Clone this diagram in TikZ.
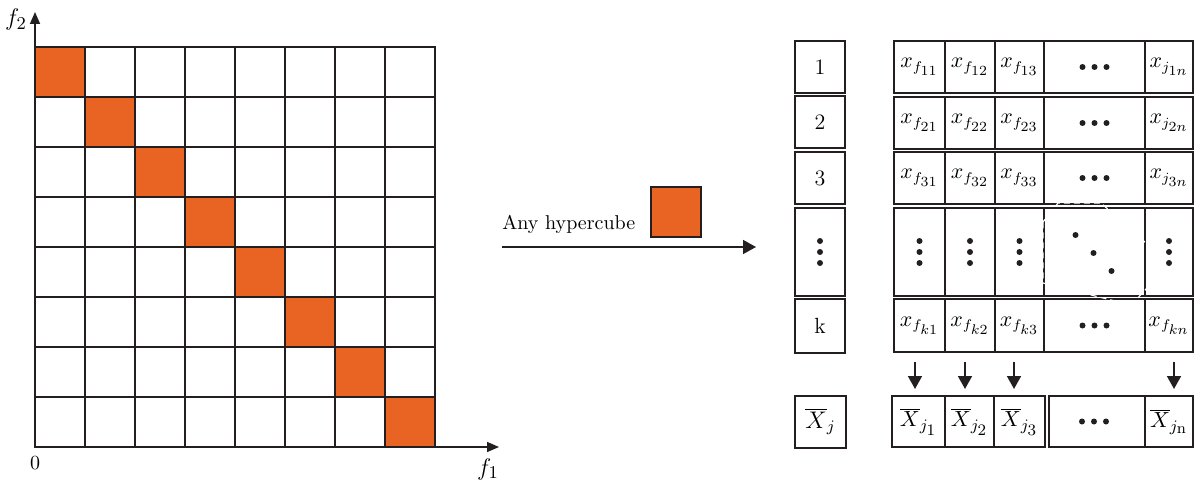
\documentclass[tikz,border=0pt]{standalone}
\usepackage{fontspec}
\usetikzlibrary{arrows.meta}
\definecolor{hc}{RGB}{233,100,34}
\definecolor{ln}{RGB}{35,31,32}
\newcommand{\sbs}[1]{{\scriptstyle #1}}
\begin{document}
\begin{tikzpicture}[x=0.5pt,y=-0.5pt,
  gridline/.style={draw=ln,line width=1pt},
  hcube/.style={draw=ln,fill=hc,line width=1pt,minimum size=25pt,inner sep=0pt,outer sep=0pt},
  cell/.style={draw=ln,line width=1pt,inner sep=0pt,outer sep=0pt,font=\fontsize{11}{13}\selectfont},
  axisarrow/.style={draw=ln,line width=0.8pt,-{Triangle[length=6pt,width=5pt]}},
  downarrow/.style={draw=ln,line width=0.8pt,-{Triangle[length=6.5pt,width=7pt]}},
  lbl/.style={inner sep=0pt,font=\fontsize{10.5}{12}\selectfont},
  dotc/.style={fill=ln}]
\useasboundingbox (0,0) rectangle (1194,481);

% ---------- left grid ----------
\foreach \i in {1,...,7}{
  \draw[gridline] ({35+50*\i},47) -- ({35+50*\i},447);
  \draw[gridline] (35,{47+50*\i}) -- (435,{47+50*\i});
}
\draw[gridline] (35,47) rectangle (435,447);
\foreach \i in {0,...,7}{
  \node[hcube] (d\i) at ({60+50*\i},{72+50*\i}) {};
}
\coordinate (O) at (35,448);
\coordinate (ytip) at (35,12);
\coordinate (xtip) at (499,447);
\draw[axisarrow] (O) -- (ytip);
\draw[axisarrow] (34.5,447) -- (xtip);
\node[lbl,font=\fontsize{12.5}{14}\selectfont] (f2) at (16,20) {$f_2$};
\node[lbl,font=\fontsize{12.5}{14}\selectfont] (f1) at (488,469) {$f_1$};
\node[lbl,font=\fontsize{10}{11}\selectfont] (zero) at (35,463) {0};

% ---------- middle ----------
\node[lbl,anchor=base west,font=\fontsize{10}{12}\selectfont] (any) at (502,229) {Any hypercube};
\node[hcube] (cube) at (675.5,212) {};
\coordinate (astart) at (502,247);
\coordinate (aend) at (756,247);
\draw[downarrow] (astart) -- (aend);

% ---------- left column ----------
\node[cell,minimum width=25pt,minimum height=26pt] (k1) at (820,67) {1};
\node[cell,minimum width=25pt,minimum height=26pt] (k2) at (820,122) {2};
\node[cell,minimum width=25pt,minimum height=26pt] (k3) at (820,178) {3};
\node[cell,minimum width=25pt,minimum height=44pt] (k4) at (820,252) {};
\node[cell,minimum width=25pt,minimum height=27pt] (k5) at (820,325.5) {k};
\node[cell,minimum width=25.5pt,minimum height=26pt,font=\fontsize{11.5}{13}\selectfont] (kx) at (820.5,421.5) {$\overline{X}_{\sbs{j}}$};
\foreach \d in {-11,0,11}{\fill[dotc] ([yshift=-\d*0.5pt]k4.center) circle[radius=1.5pt];}

% ---------- right table ----------
\foreach \r/\yc/\h in {1/67/26,2/123/26,3/178/26,4/252/44,5/325.5/26.5}{
  \node[cell,minimum width=25.5pt,minimum height=\h pt] (t\r c1) at (919.5,\yc) {};
  \node[cell,minimum width=25pt,minimum height=\h pt] (t\r c2) at (970,\yc) {};
  \node[cell,minimum width=24.5pt,minimum height=\h pt] (t\r c3) at (1019.5,\yc) {};
  \node[cell,minimum width=50.5pt,minimum height=\h pt] (t\r c4) at (1094.5,\yc) {};
  \node[cell,minimum width=24pt,minimum height=\h pt] (t\r c5) at (1169,\yc) {};
}
\node[lbl] at (t1c1) {$x_{f_{\sbs{11}}}$};
\node[lbl] at (t1c2) {$x_{f_{\sbs{12}}}$};
\node[lbl] at (t1c3) {$x_{f_{\sbs{13}}}$};
\node[lbl] at (t1c5) {$x_{j_{\sbs{1n}}}$};
\node[lbl] at (t2c1) {$x_{f_{\sbs{21}}}$};
\node[lbl] at (t2c2) {$x_{f_{\sbs{22}}}$};
\node[lbl] at (t2c3) {$x_{f_{\sbs{23}}}$};
\node[lbl] at (t2c5) {$x_{j_{\sbs{2n}}}$};
\node[lbl] at (t3c1) {$x_{f_{\sbs{31}}}$};
\node[lbl] at (t3c2) {$x_{f_{\sbs{32}}}$};
\node[lbl] at (t3c3) {$x_{f_{\sbs{33}}}$};
\node[lbl] at (t3c5) {$x_{j_{\sbs{3n}}}$};
\node[lbl] at (t5c1) {$x_{f_{\sbs{k1}}}$};
\node[lbl] at (t5c2) {$x_{f_{\sbs{k2}}}$};
\node[lbl] at (t5c3) {$x_{f_{\sbs{k3}}}$};
\node[lbl] at (t5c5) {$x_{f_{\sbs{kn}}}$};
% horizontal dots
\foreach \r in {1,2,3,5}{
  \foreach \d in {-12,0,12}{\fill[dotc] ([xshift=\d*0.5pt]t\r c4.center) circle[radius=1.5pt];}
}
% vertical dots
\foreach \c in {1,2,3,5}{
  \foreach \d in {-11,0,11}{\fill[dotc] ([yshift=-\d*0.5pt]t4c\c.center) circle[radius=1.5pt];}
}
% diagonal dots
\fill[dotc] ([xshift=-9.5pt,yshift=8.5pt]t4c4.center) circle[radius=1.5pt];
\fill[dotc] ([xshift=-0.5pt,yshift=-0.5pt]t4c4.center) circle[radius=1.5pt];
\fill[dotc] ([xshift=8.5pt,yshift=-9.5pt]t4c4.center) circle[radius=1.5pt];
% white dashed artefact
\draw[white,line width=0.6pt,dash pattern=on 3pt off 2pt]
  (1043,222) -- (1058,203) -- (1101,203) -- (1147,244) -- (1147,288) -- (1134,302) -- (1119,302) -- (1043,283) -- cycle;

% ---------- bottom row ----------
\begin{scope}[every node/.append style={font=\fontsize{11.5}{13}\selectfont}]
\node[cell,minimum width=26.5pt,minimum height=25.5pt] (b1) at (918.5,421.5) {$\overline{X}_{j_{\sbs 1}}$};
\node[cell,minimum width=24.5pt,minimum height=25.5pt] (b2) at (969.5,421.5) {$\overline{X}_{j_{\sbs 2}}$};
\node[cell,minimum width=25.5pt,minimum height=25.5pt] (b3) at (1019.5,421.5) {$\overline{X}_{j_{\sbs 3}}$};
\node[cell,minimum width=48pt,minimum height=25.5pt] (b4) at (1097,421.5) {};
\node[cell,minimum width=24pt,minimum height=25.5pt] (b5) at (1169,421.5) {$\overline{X}_{j_{\sbs{\mathrm{n}}}}$};
\end{scope}
\foreach \d in {-12,0,12}{\fill[dotc] ([xshift=\d*0.5pt-1.5pt]b4.center) circle[radius=1.5pt];}

% ---------- down arrows ----------
\foreach \i/\x in {1/915,2/965,3/1014,5/1174}{
  \coordinate (s\i) at (\x,362);
  \coordinate (e\i) at (\x,389);
  \draw[downarrow] (s\i) -- (e\i);
}
\end{tikzpicture}
\end{document}
